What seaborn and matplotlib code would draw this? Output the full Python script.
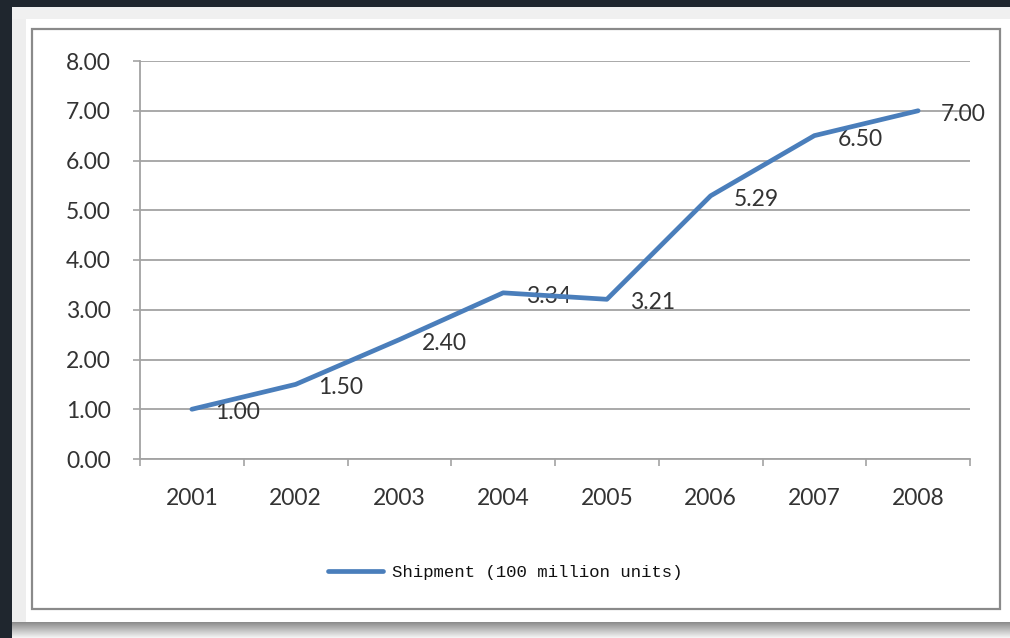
import numpy as np
import pandas as pd
import matplotlib
matplotlib.use("Agg")
import matplotlib.pyplot as plt
from matplotlib.patches import Rectangle
from matplotlib.ticker import FixedLocator, NullFormatter, FixedFormatter
import seaborn as sns

years = ["2001", "2002", "2003", "2004", "2005", "2006", "2007", "2008"]
shipment = [1.00, 1.50, 2.40, 3.34, 3.21, 5.29, 6.50, 7.00]
series_name = "Shipment (100 million units)"
y_ticks = [0, 1, 2, 3, 4, 5, 6, 7, 8]

sns.set_theme(style="white")
plt.rcParams["font.family"] = ["Lato", "DejaVu Sans"]

W, H = 1010, 638
fig = plt.figure(figsize=(W / 100, H / 100), dpi=100, facecolor="#1f262e")

def fx(px):
    return px / W

def fy(py):
    return 1 - py / H

# card background with soft shadow
bg = fig.add_axes([0, 0, 1, 1], zorder=-10)
bg.set_axis_off()
bg.set_xlim(0, W)
bg.set_ylim(H, 0)
grad = np.linspace(0, 1, 16)
shadow_cols = np.clip(0.55 + 0.40 * grad, 0, 1)
bg.imshow(np.tile(shadow_cols[:, None], (1, 10)), extent=(12, W, 638, 622),
          cmap="gray", vmin=0, vmax=1, aspect="auto", zorder=0)
bg.add_patch(Rectangle((12, 7), W - 12, 615, facecolor="#fdfdfd", edgecolor="none", zorder=1))
bg.add_patch(Rectangle((12, 7), 14, 615, facecolor="#eeeeee", edgecolor="none", zorder=1))
bg.add_patch(Rectangle((12, 7), W - 12, 12, facecolor="#f0f0f0", edgecolor="none", zorder=1))
bg.add_patch(Rectangle((26, 19), W - 26, 603, facecolor="white", edgecolor="none", zorder=1))
bg.add_patch(Rectangle((32, 29), 968, 580, facecolor="white", edgecolor="#8a8a8a", linewidth=1.6, zorder=2))

# plot area
ax = fig.add_axes([fx(140), fy(459), fx(970) - fx(140), fy(61) - fy(459)])
ax.set_facecolor("none")

df = pd.DataFrame({"idx": np.arange(len(years)), "value": shipment, "series": series_name})
sns.lineplot(data=df, x="idx", y="value", hue="series", palette=["#4a7ebb"],
             linewidth=3.4, ax=ax, zorder=5, legend=True)

ax.set_xlim(-0.5, len(years) - 0.5)
ax.set_ylim(0, 8)

grid_col = "#a3a3a3"
txt_col = "#333333"
fs = 16.5
ax.set_yticks(y_ticks)
ax.set_yticklabels([f"{v:.2f}" for v in y_ticks])
ax.yaxis.grid(True, color=grid_col, linewidth=1.3)
ax.xaxis.grid(False)
ax.tick_params(axis="y", which="major", left=True, length=5, width=1.2, color=grid_col,
               direction="out", pad=16, labelsize=fs, labelcolor=txt_col)

ax.xaxis.set_major_locator(FixedLocator(np.arange(len(years) + 1) - 0.5))
ax.xaxis.set_major_formatter(NullFormatter())
ax.xaxis.set_minor_locator(FixedLocator(np.arange(len(years))))
ax.xaxis.set_minor_formatter(FixedFormatter(years))
ax.tick_params(axis="x", which="major", bottom=True, length=5, width=1.2, color=grid_col, direction="out")
ax.tick_params(axis="x", which="minor", bottom=True, length=0, pad=21, labelsize=fs, labelcolor=txt_col)

for s in ["top", "right"]:
    ax.spines[s].set_visible(False)
for s in ["left", "bottom"]:
    ax.spines[s].set_color(grid_col)
    ax.spines[s].set_linewidth(1.3)
ax.set_xlabel("")
ax.set_ylabel("")

for i, v in enumerate(shipment):
    ax.annotate(f"{v:.2f}", (i, v), xytext=(16.5, -2.5), textcoords="offset points",
                ha="left", va="center", fontsize=fs, color=txt_col, zorder=4)

leg = ax.legend(loc="center", bbox_to_anchor=(0.5, fy(572)), bbox_transform=fig.transFigure,
                frameon=False, handlelength=3.2, handletextpad=0.5,
                prop={"family": ["Liberation Mono", "DejaVu Sans Mono"], "size": 12.5})
for t in leg.get_texts():
    t.set_color("#111111")

fig.savefig("out.png", dpi=100, facecolor=fig.get_facecolor())
